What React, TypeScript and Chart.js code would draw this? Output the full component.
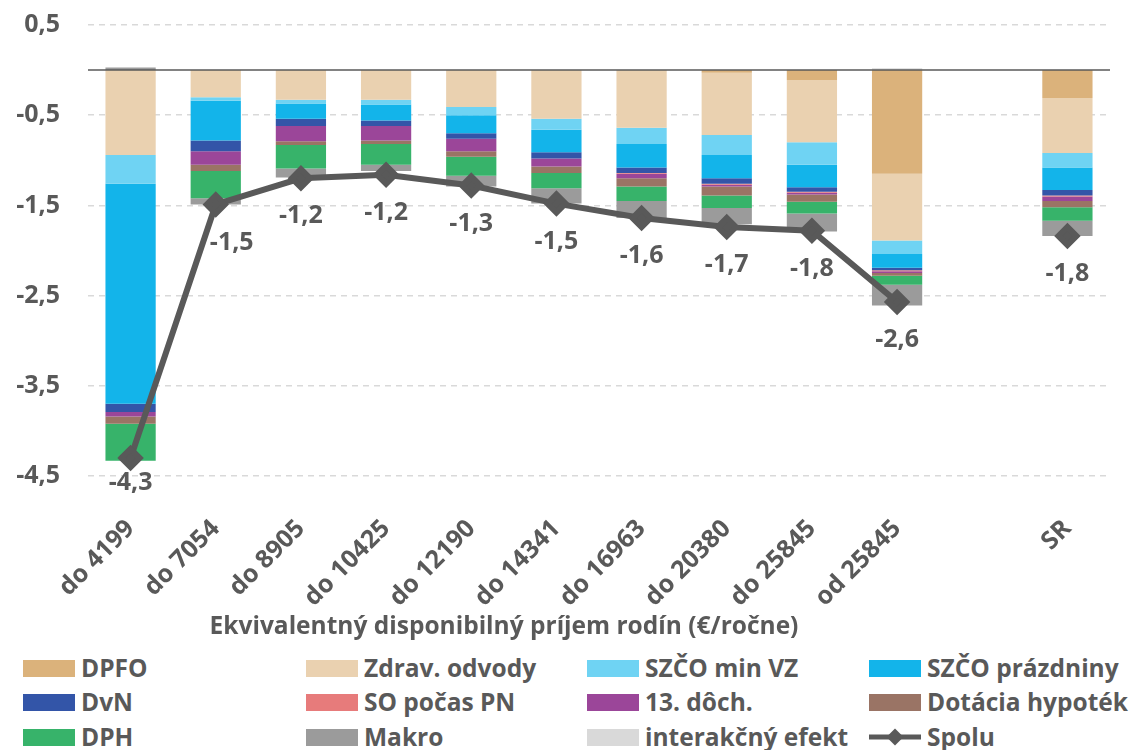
import React, { useEffect, useRef } from 'react';
import { Chart, registerables } from 'chart.js';

Chart.register(...registerables);

const FONT = '"Open Sans", Lato, sans-serif';
const TXT = '#595959';

const categories = ['do 4199', 'do 7054', 'do 8905', 'do 10425', 'do 12190', 'do 14341', 'do 16963', 'do 20380', 'do 25845', 'od 25845', '', 'SR'];
const axisTitle = 'Ekvivalentný disponibilný príjem rodín (€/ročne)';

const dpfo = [0, 0, 0, 0, 0, 0, 0, -0.03, -0.11, -1.15, null, -0.31];
const zdrav = [-0.94, -0.30, -0.33, -0.33, -0.41, -0.54, -0.64, -0.69, -0.69, -0.74, null, -0.61];
const szcoMinVz = [-0.32, -0.04, -0.04, -0.05, -0.09, -0.12, -0.18, -0.22, -0.25, -0.15, null, -0.16];
const szcoPrazdniny = [-2.44, -0.44, -0.17, -0.18, -0.20, -0.25, -0.26, -0.26, -0.25, -0.15, null, -0.25];
const dvn = [-0.09, -0.12, -0.08, -0.06, -0.06, -0.07, -0.06, -0.06, -0.05, -0.03, null, -0.06];
const soPn = [0, 0, 0, 0, 0, 0, -0.01, -0.01, -0.01, -0.01, null, -0.01];
const doch13 = [-0.05, -0.15, -0.17, -0.16, -0.14, -0.09, -0.05, -0.02, -0.02, -0.02, null, -0.05];
const dotacia = [-0.08, -0.07, -0.04, -0.04, -0.06, -0.07, -0.09, -0.10, -0.08, -0.03, null, -0.07];
const dph = [-0.41, -0.30, -0.26, -0.23, -0.21, -0.17, -0.16, -0.14, -0.13, -0.10, null, -0.15];
const makro = [0.03, -0.07, -0.10, -0.07, -0.12, -0.17, -0.19, -0.18, -0.20, -0.23, null, -0.17];
const interakcny = [0, 0, 0, 0, 0, 0, 0, 0, 0, 0.02, null, 0];
const spolu = [-4.3, -1.49, -1.2, -1.16, -1.28, -1.48, -1.64, -1.74, -1.78, -2.57, null, -1.84];

const yTicksMin = -4.5;
const yTicksMax = 0.5;
const yStep = 1;

const barSeries = [
  { label: 'DPFO', data: dpfo, color: '#DBB27B' },
  { label: 'Zdrav. odvody', data: zdrav, color: '#EAD1B0' },
  { label: 'SZČO min VZ', data: szcoMinVz, color: '#6FD3F3' },
  { label: 'SZČO prázdniny', data: szcoPrazdniny, color: '#13B4EA' },
  { label: 'DvN', data: dvn, color: '#3355A8' },
  { label: 'SO počas PN', data: soPn, color: '#E77B7B' },
  { label: '13. dôch.', data: doch13, color: '#9B4699' },
  { label: 'Dotácia hypoték', data: dotacia, color: '#9A7465' },
  { label: 'DPH', data: dph, color: '#37B36A' },
  { label: 'Makro', data: makro, color: '#9B9B9B' },
  { label: 'interakčný efekt', data: interakcny, color: '#D9D9D9' },
];

const fmt = (v: number) => v.toFixed(1).replace('.', ',');

const zeroLinePlugin = {
  id: 'zeroLine',
  afterDatasetsDraw(chart: any) {
    const { ctx, chartArea, scales } = chart;
    const y = scales.y.getPixelForValue(0);
    ctx.save();
    ctx.strokeStyle = '#595959';
    ctx.lineWidth = 1.5;
    ctx.beginPath();
    ctx.moveTo(chartArea.left, y);
    ctx.lineTo(chartArea.right, y);
    ctx.stroke();
    ctx.restore();
  },
};

const labelPlugin = {
  id: 'spoluLabels',
  afterDatasetsDraw(chart: any) {
    const idx = chart.data.datasets.length - 1;
    const meta = chart.getDatasetMeta(idx);
    const data = chart.data.datasets[idx].data as (number | null)[];
    const { ctx } = chart;
    ctx.save();
    ctx.font = `bold 25px ${FONT}`;
    ctx.fillStyle = TXT;
    ctx.textAlign = 'center';
    ctx.textBaseline = 'middle';
    meta.data.forEach((pt: any, i: number) => {
      const v = data[i];
      if (v === null || v === undefined) return;
      let dx = 0;
      let dy = 38;
      if (i === 0) dy = 25;
      if (i === 1) dx = 16;
      ctx.fillText(fmt(v), pt.x + dx, pt.y + dy);
    });
    ctx.restore();
  },
};

export default function App() {
  const ref = useRef<HTMLCanvasElement>(null);

  useEffect(() => {
    document.body.style.margin = '0';
    const datasets: any[] = barSeries.map((s) => ({
      type: 'bar',
      label: s.label,
      data: s.data,
      backgroundColor: s.color,
      borderWidth: 0,
      stack: 's',
      categoryPercentage: 1,
      barPercentage: 0.59,
      order: 2,
    }));
    datasets.push({
      type: 'line',
      label: 'Spolu',
      data: spolu,
      borderColor: '#595959',
      backgroundColor: '#595959',
      borderWidth: 6,
      pointStyle: 'rectRot',
      pointRadius: 9,
      pointHoverRadius: 9,
      spanGaps: false,
      order: 1,
    });
    const chart = new Chart(ref.current!, {
      type: 'bar',
      data: { labels: categories, datasets },
      options: {
        responsive: false,
        animation: false,
        devicePixelRatio: 1,
        layout: { padding: { top: 25, right: 22, left: 0, bottom: 0 } },
        plugins: {
          legend: { display: false },
          tooltip: { enabled: false },
        },
        scales: {
          x: {
            stacked: true,
            grid: { display: false },
            border: { display: false },
            ticks: {
              autoSkip: false,
              minRotation: 45,
              maxRotation: 45,
              color: TXT,
              padding: 30,
              font: { family: FONT, size: 25, weight: 'bold' },
            },
            afterFit: (s: any) => {
              s.height = 174;
            },
          },
          y: {
            stacked: true,
            min: yTicksMin,
            max: yTicksMax,
            border: { display: false, dash: [6, 5] },
            grid: {
              color: '#D9D9D9',
              lineWidth: 1.5,
              drawTicks: false,
            },
            ticks: {
              stepSize: yStep,
              color: TXT,
              padding: 28,
              font: { family: FONT, size: 25, weight: 'bold' },
              callback: (v: any) => fmt(Number(v)),
            },
            afterFit: (s: any) => {
              s.width = 88;
              s.paddingTop = 0;
              s.paddingBottom = 0;
            },
          },
        },
      } as any,
      plugins: [zeroLinePlugin, labelPlugin],
    });
    return () => chart.destroy();
  }, []);

  const colX = [23, 306, 587, 869];
  const rowY = [658, 692, 727];
  const textStyle: React.CSSProperties = { marginLeft: 6, fontSize: 24.5, fontWeight: 700, color: TXT, lineHeight: '20px', whiteSpace: 'nowrap' };

  return (
    <div style={{ position: 'relative', width: 1132, height: 750, fontFamily: FONT, overflow: 'hidden' }}>
      <canvas ref={ref} width={1132} height={650} style={{ position: 'absolute', left: 0, top: 0, width: 1132, height: 650 }} />
      <div style={{ position: 'absolute', left: 504, top: 625, transform: 'translate(-50%, -50%)', fontSize: 24.5, fontWeight: 700, color: TXT, whiteSpace: 'nowrap', lineHeight: '30px' }}>
        {axisTitle}
      </div>
      {barSeries.map((it, i) => {
        const c = i % 4;
        const r = Math.floor(i / 4);
        return (
          <div key={it.label} style={{ position: 'absolute', left: colX[c], top: rowY[r], height: 20, display: 'flex', alignItems: 'center' }}>
            <div style={{ width: 52, height: 17, background: it.color }} />
            <span style={textStyle}>{it.label}</span>
          </div>
        );
      })}
      <div style={{ position: 'absolute', left: colX[3], top: rowY[2], height: 20, display: 'flex', alignItems: 'center' }}>
        <svg width={52} height={20}>
          <line x1={0} y1={10} x2={52} y2={10} stroke="#595959" strokeWidth={5} />
          <rect x={20} y={4} width={12} height={12} fill="#595959" transform="rotate(45 26 10)" />
        </svg>
        <span style={textStyle}>Spolu</span>
      </div>
    </div>
  );
}
